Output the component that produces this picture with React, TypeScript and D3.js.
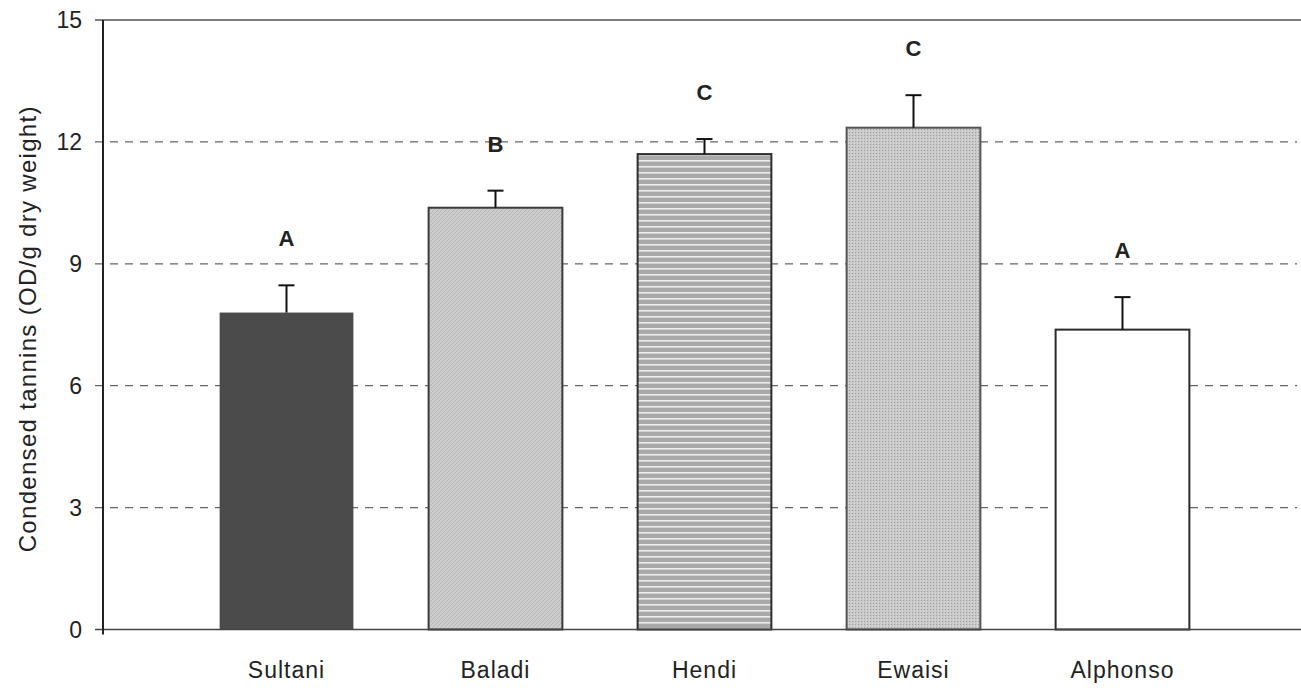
import React from 'react';
import * as d3 from 'd3';

const cultivars = ['Sultani', 'Baladi', 'Hendi', 'Ewaisi', 'Alphonso'];
const tannins = [7.8, 10.38, 11.7, 12.35, 7.38];
const errors = [0.67, 0.42, 0.37, 0.8, 0.8];
const groups = ['A', 'B', 'C', 'C', 'A'];
const yTicks = [0, 3, 6, 9, 12, 15];
const fills = ['#4b4b4b', 'url(#pBaladi)', 'url(#pHendi)', 'url(#pEwaisi)', '#ffffff'];
const strokes = ['#4b4b4b', '#3a3a3a', '#2e2e2e', '#555555', '#2a2a2a'];

const W = 1301;
const H = 688;
const font = '"Liberation Sans", Arial, sans-serif';

export default function App() {
    const axisX = 103;
    const right = 1297;

    const y = d3.scaleLinear().domain([0, 15]).range([629.5, 20]);

    const x = d3
        .scaleBand()
        .domain(cultivars)
        .range([182, 1227])
        .paddingInner(0.36)
        .paddingOuter(0.18);

    return (
        <svg
            width={W}
            height={H}
            style={{ position: 'absolute', left: 0, top: 0, background: '#fff' }}
        >
            <defs>
                <pattern id="pBaladi" width="4" height="4" patternUnits="userSpaceOnUse">
                    <rect width="4" height="4" fill="#cdcdcd" />
                    <path d="M0,4 L4,0" stroke="#b6b6b6" strokeWidth="1" />
                </pattern>
                <pattern id="pHendi" width="6" height="6" patternUnits="userSpaceOnUse">
                    <rect width="6" height="6" fill="#a9a9a9" />
                    <rect y="4" width="6" height="1.6" fill="#ececec" />
                </pattern>
                <pattern id="pEwaisi" width="3" height="3" patternUnits="userSpaceOnUse">
                    <rect width="3" height="3" fill="#c8c8c8" />
                    <rect x="0" y="0" width="1" height="1" fill="#9e9e9e" />
                    <rect x="2" y="1.5" width="1" height="1" fill="#e4e4e4" />
                </pattern>
            </defs>

            {/* gridlines */}
            <g>
                {yTicks.slice(1, -1).map(t => (
                    <line
                        key={t}
                        x1={axisX - 8}
                        x2={right}
                        y1={y(t)}
                        y2={y(t)}
                        stroke="#666"
                        strokeWidth={1.2}
                        strokeDasharray="8,7"
                    />
                ))}
                <line x1={axisX - 8} x2={W} y1={y(15)} y2={y(15)} stroke="#555" strokeWidth={1.5} />
            </g>

            {/* bars */}
            <g>
                {cultivars.map((c, i) => (
                    <rect
                        key={c}
                        x={x(c)}
                        y={y(tannins[i])}
                        width={x.bandwidth()}
                        height={y(0) - y(tannins[i])}
                        fill={fills[i]}
                        stroke={strokes[i]}
                        strokeWidth={i === 0 ? 0 : 2}
                    />
                ))}
            </g>

            {/* error bars */}
            <g stroke="#111" strokeWidth={2}>
                {cultivars.map((c, i) => {
                    const cx = x(c) + x.bandwidth() / 2;
                    const top = y(tannins[i] + errors[i]);
                    return (
                        <g key={c}>
                            <line x1={cx} x2={cx} y1={y(tannins[i])} y2={top} />
                            <line x1={cx - 8} x2={cx + 8} y1={top} y2={top} />
                        </g>
                    );
                })}
            </g>

            {/* group letters */}
            <g fontFamily={font} fontSize={22} fontWeight={600} fill="#222" textAnchor="middle">
                {cultivars.map((c, i) => (
                    <text key={c} x={x(c) + x.bandwidth() / 2} y={y(tannins[i] + errors[i]) - 39}>
                        {groups[i]}
                    </text>
                ))}
            </g>

            {/* axes */}
            <line x1={axisX - 8} x2={W} y1={y(0)} y2={y(0)} stroke="#444" strokeWidth={1.5} />
            <line x1={axisX} x2={axisX} y1={y(15)} y2={y(0) + 5} stroke="#222" strokeWidth={2} />

            <g fontFamily={font} fontSize={23} fill="#222" textAnchor="end">
                {yTicks.map(t => (
                    <text key={t} x={82} y={y(t) + 8}>
                        {t}
                    </text>
                ))}
            </g>

            <g fontFamily={font} fontSize={23} fill="#222" textAnchor="middle" letterSpacing={1}>
                {cultivars.map(c => (
                    <text key={c} x={x(c) + x.bandwidth() / 2} y={678}>
                        {c}
                    </text>
                ))}
            </g>

            <text
                transform={`translate(36, ${(y(0) + y(15)) / 2 + 4}) rotate(-90)`}
                fontFamily={font}
                fontSize={24}
                fill="#222"
                textAnchor="middle"
                letterSpacing={1.3}
            >
                Condensed tannins (OD/g dry weight)
            </text>
        </svg>
    );
}
